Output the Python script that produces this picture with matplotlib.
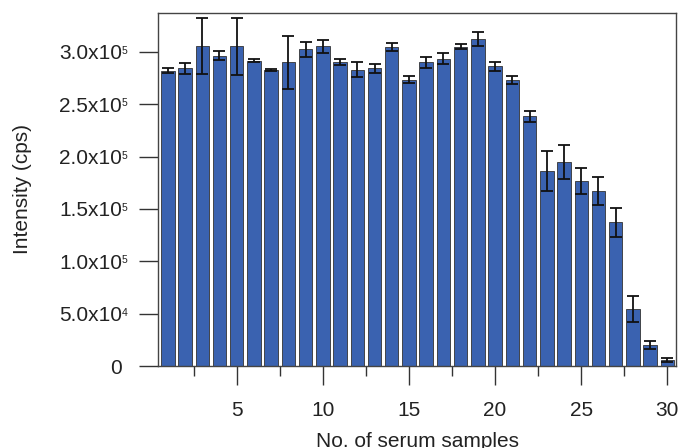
import matplotlib
matplotlib.use("Agg")
import matplotlib.pyplot as plt
import numpy as np
from matplotlib.ticker import FixedLocator, FixedFormatter, MultipleLocator
import matplotlib.transforms as mtransforms

plt.rcParams['font.family'] = ['Liberation Sans', 'DejaVu Sans']

samples = list(range(1, 31))
intensity = [2.820, 2.843, 3.053, 2.964, 3.053, 2.916, 2.830, 2.900, 3.024, 3.053,
             2.900, 2.830, 2.843, 3.046, 2.734, 2.900, 2.935, 3.050, 3.123, 2.862,
             2.734, 2.384, 1.861, 1.950, 1.769, 1.673, 1.374, 0.542, 0.198, 0.054]
errors = [0.024, 0.054, 0.268, 0.045, 0.271, 0.016, 0.010, 0.250, 0.069, 0.061,
          0.029, 0.072, 0.040, 0.037, 0.035, 0.056, 0.053, 0.024, 0.069, 0.046,
          0.037, 0.053, 0.188, 0.164, 0.123, 0.134, 0.137, 0.124, 0.040, 0.019]
scale = 1e5
ytick_vals = [0, 0.5e5, 1.0e5, 1.5e5, 2.0e5, 2.5e5, 3.0e5]
ytick_bases = ['0', '5.0x10', '1.0x10', '1.5x10', '2.0x10', '2.5x10', '3.0x10']
ytick_exps = ['', '4', '5', '5', '5', '5', '5']
xtick_vals = [5, 10, 15, 20, 25, 30]

y = np.array(intensity) * scale
e = np.array(errors) * scale

W, H = 681, 448
fig = plt.figure(figsize=(W / 100, H / 100), dpi=100)
ax = fig.add_axes([158 / W, 1 - 366 / H, (676 - 158) / W, (366 - 13) / H])

ax.bar(samples, y, width=0.78, color='#3A62B0', edgecolor='#333333', linewidth=0.6, zorder=2)
ax.errorbar(samples, y, yerr=e, fmt='none', ecolor='#111111', elinewidth=1.3,
            capsize=4, capthick=1.3, zorder=3)

ax.set_xlim(0.43, 30.5)
ax.set_ylim(0, 3.372e5)

ax.yaxis.set_major_locator(FixedLocator(ytick_vals))
ax.yaxis.set_major_formatter(FixedFormatter(ytick_bases))
ax.xaxis.set_major_locator(FixedLocator(xtick_vals))
ax.xaxis.set_minor_locator(MultipleLocator(2.5))

ax.tick_params(axis='both', which='major', direction='out', length=14, width=1.0,
               color='#333333', labelsize=15, labelcolor='#222222')
ax.tick_params(axis='y', which='major', pad=12)
ax.tick_params(axis='x', which='major', pad=11)
ax.tick_params(axis='x', which='minor', direction='out', length=7, width=1.0, color='#333333')
ax.tick_params(top=False, right=False)

# superscript exponents next to tick labels
trans = mtransforms.blended_transform_factory(ax.transAxes, ax.transData)
for v, ex in zip(ytick_vals, ytick_exps):
    if ex:
        ax.annotate(ex, xy=(0, v), xycoords=trans,
                    xytext=(-(158 - 122) * 0.72, -1.5), textcoords='offset points',
                    ha='left', va='baseline', fontsize=7.5, color='#222222',
                    annotation_clip=False)

for s in ax.spines.values():
    s.set_color('#444444')
    s.set_linewidth(1.0)

ax.set_ylabel('Intensity (cps)', fontsize=15, color='#222222')
ax.yaxis.set_label_coords((32 - 158) / (676 - 158), 0.5)
ax.set_xlabel('No. of serum samples', fontsize=15, color='#222222', va='top')
ax.xaxis.set_label_coords(0.5, -(432 - 366) / (366 - 13))

fig.savefig('out.png', dpi=100)
